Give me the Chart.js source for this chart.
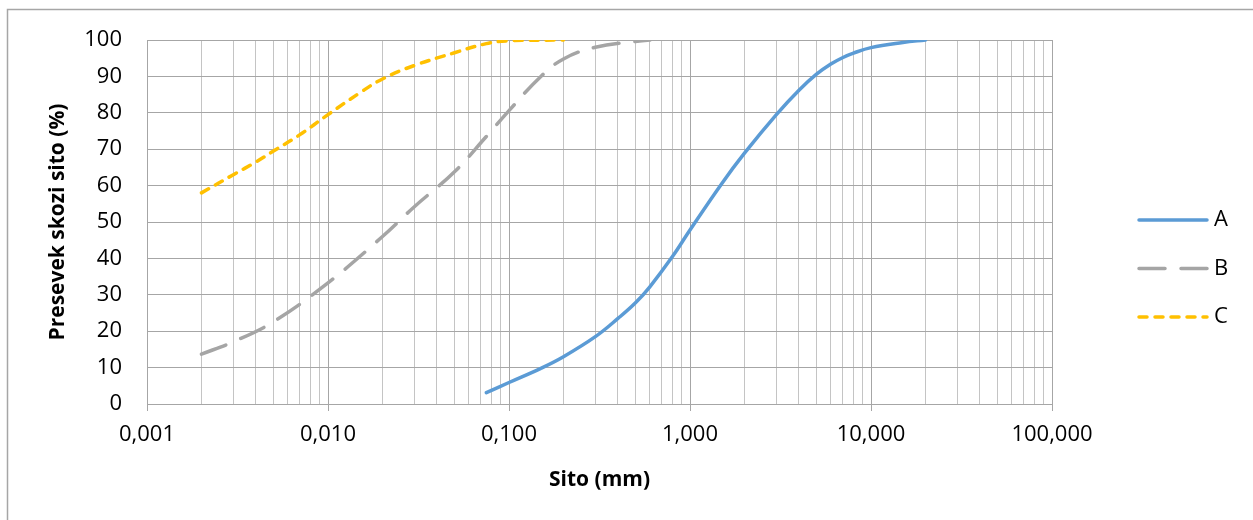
<!DOCTYPE html>
<html>
<head>
<meta charset="utf-8">
<script src="https://cdn.jsdelivr.net/npm/chart.js@4.4.1/dist/chart.umd.min.js"></script>
<style>
  html, body { margin: 0; padding: 0; background: #fff; }
  #wrap { width: 1253px; height: 520px; }
</style>
</head>
<body>
<div id="wrap"><canvas id="sieveChart" width="1253" height="520"></canvas></div>
<script>
// Sieve curves

const seriesNames = ['A', 'B', 'C'];

// A
const sizeA = [0.075, 0.1, 0.15, 0.2, 0.3, 0.4, 0.5, 0.6, 0.8, 1, 1.5, 2, 3, 4, 5, 6, 7, 8, 10, 15, 20];
const passA = [3.1, 5.9, 9.8, 13.0, 18.5, 23.5, 27.8, 32.2, 40.5, 47.8, 60.6, 68.9, 79.5, 86.2, 90.6, 93.4, 95.2, 96.4, 97.9, 99.3, 100];

// B
const sizeB = [0.002, 0.003, 0.005, 0.01, 0.02, 0.03, 0.05, 0.075, 0.1, 0.15, 0.2, 0.3, 0.5, 0.6];
const passB = [13.7, 17.1, 22.6, 33.3, 46.0, 54.2, 63.8, 73.5, 80.6, 90.0, 94.8, 98.0, 99.6, 100];

// C
const sizeC = [0.002, 0.003, 0.004, 0.005, 0.007, 0.01, 0.015, 0.02, 0.03, 0.05, 0.075, 0.1, 0.2];
const passC = [58.0, 63.0, 66.5, 69.5, 74.0, 79.5, 85.5, 89.3, 93.0, 96.5, 99.0, 99.8, 100];

// axes
const xMajorTicks = [0.001, 0.01, 0.1, 1, 10, 100];
const xTickLabels = ['0,001', '0,010', '0,100', '1,000', '10,000', '100,000'];
const yTickValues = [0, 10, 20, 30, 40, 50, 60, 70, 80, 90, 100];

const xTitle = 'Sito (mm)';
const yTitle = 'Presevek skozi sito (%)';

function toPoints(xs, ys) {
  return xs.map((x, i) => ({ x: x, y: ys[i] }));
}

Chart.defaults.font.family = "'Open Sans', sans-serif";
Chart.defaults.font.size = 22;
Chart.defaults.color = '#000';

// white page + frame
const framePlugin = {
  id: 'frame',
  beforeDraw(chart) {
    const ctx = chart.ctx;
    ctx.save();
    ctx.fillStyle = '#fff';
    ctx.fillRect(0, 0, chart.width, chart.height);
    ctx.strokeStyle = '#a6a6a6';
    ctx.lineWidth = 1.5;
    ctx.strokeRect(7.5, 9.5, chart.width + 20, chart.height + 20);
    ctx.restore();
  }
};

// legend on the right, lines with the series dash
const sideLegend = {
  id: 'sideLegend',
  afterDraw(chart) {
    const ctx = chart.ctx;
    ctx.save();
    chart.data.datasets.forEach((ds, i) => {
      const y = 220 + i * 48.5;
      ctx.beginPath();
      ctx.strokeStyle = ds.borderColor;
      ctx.lineWidth = ds.borderWidth;
      ctx.lineCap = 'round';
      ctx.setLineDash(ds.borderDash || []);
      ctx.moveTo(1139, y);
      ctx.lineTo(1207, y);
      ctx.stroke();
      ctx.setLineDash([]);
      ctx.fillStyle = '#000';
      ctx.font = "22px 'Open Sans', sans-serif";
      ctx.textAlign = 'left';
      ctx.textBaseline = 'middle';
      ctx.fillText(ds.label, 1214, y);
    });
    ctx.restore();
  }
};

const lineStyle = {
  borderWidth: 3.5,
  borderCapStyle: 'round',
  borderJoinStyle: 'round',
  pointRadius: 0,
  tension: 0.4
};

const ctx = document.getElementById('sieveChart').getContext('2d');
new Chart(ctx, {
  type: 'line',
  data: {
    datasets: [{
      ...lineStyle,
      label: seriesNames[0],
      data: toPoints(sizeA, passA),
      borderColor: '#5b9bd5'
    }, {
      ...lineStyle,
      label: seriesNames[1],
      data: toPoints(sizeB, passB),
      borderColor: '#a5a5a5',
      borderDash: [26, 16]
    }, {
      ...lineStyle,
      label: seriesNames[2],
      data: toPoints(sizeC, passC),
      borderColor: '#ffc000',
      borderDash: [8, 8]
    }]
  },
  options: {
    responsive: false,
    animation: false,
    layout: { padding: { left: 20, top: 40, right: 201, bottom: 0 } },
    plugins: {
      legend: { display: false },
      tooltip: { enabled: false }
    },
    scales: {
      x: {
        type: 'logarithmic',
        min: 0.001,
        max: 100,
        afterBuildTicks(scale) {
          const ticks = [];
          xMajorTicks.forEach((v, i) => {
            ticks.push({ value: v, major: true });
            if (i < xMajorTicks.length - 1) {
              for (let m = 2; m <= 9; m++) ticks.push({ value: m * v, major: false });
            }
          });
          scale.ticks = ticks;
        },
        afterFit(scale) { scale.height = 116; },
        ticks: {
          autoSkip: false,
          maxRotation: 0,
          padding: 11,
          callback(value, index, ticks) {
            const k = xMajorTicks.indexOf(ticks[index].value);
            return k >= 0 ? xTickLabels[k] : '';
          }
        },
        grid: {
          color: (c) => (c.tick && c.tick.major ? '#a6a6a6' : '#c4c4c4'),
          tickColor: (c) => (c.tick && c.tick.major ? '#a6a6a6' : 'rgba(0,0,0,0)'),
          tickLength: 7,
          lineWidth: 1
        },
        border: { display: true, color: '#a6a6a6' },
        title: {
          display: true,
          text: xTitle,
          font: { weight: 'bold', size: 21 },
          padding: 27
        }
      },
      y: {
        min: 0,
        max: 100,
        afterBuildTicks(scale) {
          scale.ticks = yTickValues.map(v => ({ value: v }));
        },
        afterFit(scale) { scale.width = 127; },
        ticks: { padding: 25 },
        grid: { color: '#a6a6a6', drawTicks: false, lineWidth: 1 },
        border: { display: true, color: '#a6a6a6' },
        title: {
          display: true,
          text: yTitle,
          font: { weight: 'bold', size: 21 },
          padding: 25
        }
      }
    }
  },
  plugins: [framePlugin, sideLegend]
});
</script>
</body>
</html>
